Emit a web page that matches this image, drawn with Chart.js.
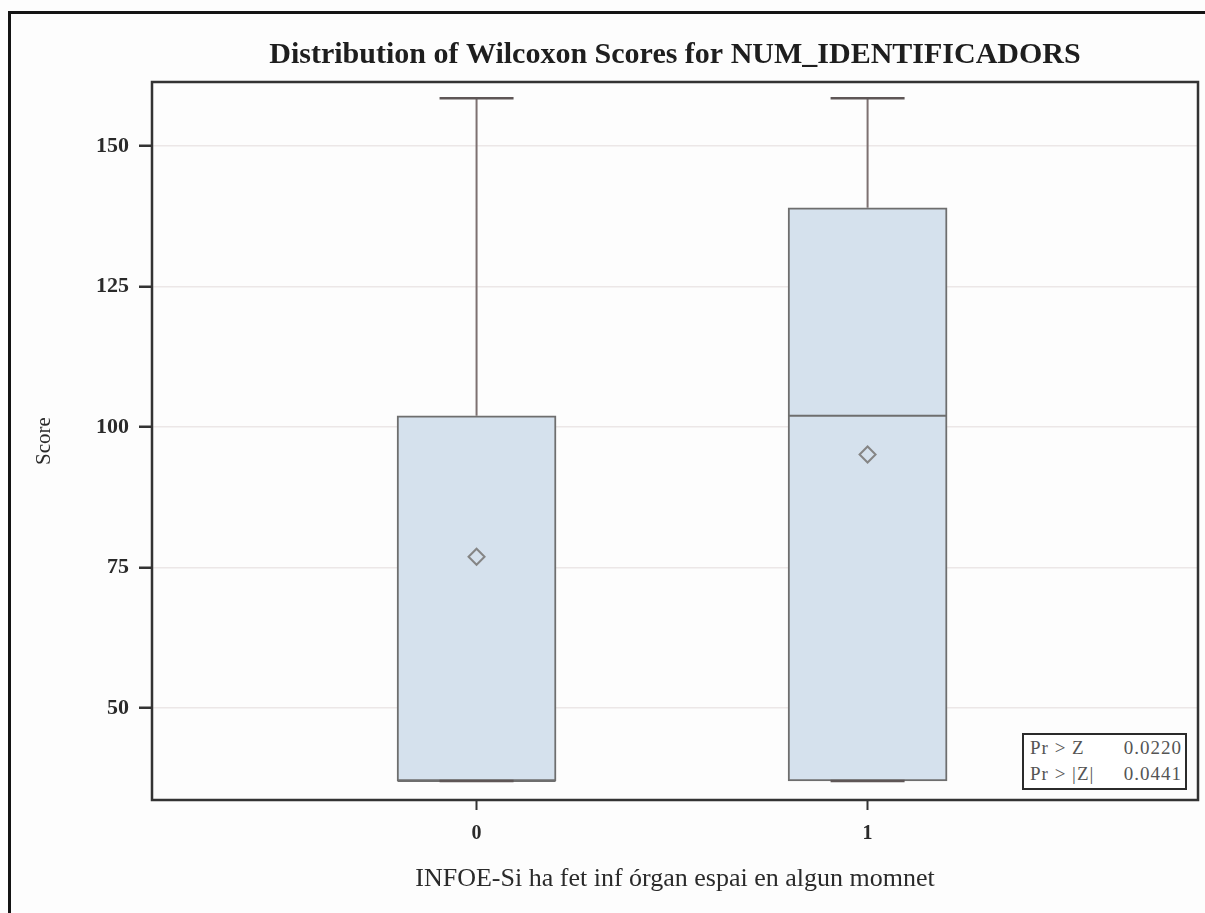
<!DOCTYPE html>
<html>
<head>
<meta charset="utf-8">
<script src="https://cdn.jsdelivr.net/npm/chart.js@4.4.1/dist/chart.umd.min.js"></script>
<style>
  html, body { margin: 0; padding: 0; background: #fdfdfd; }
  #wrap { position: relative; width: 1205px; height: 913px; overflow: hidden; }
  #frame { position: absolute; left: 8px; top: 11px; width: 1300px; height: 1000px; border: 3px solid #141414; }
  #chart { position: absolute; left: 0; top: 0; }
  #stats {
    position: absolute; left: 1022px; top: 733px; width: 161px; height: 53px;
    border: 2px solid #2b2b2b; background: #fff;
    font-family: "Liberation Serif", serif; font-size: 19px; letter-spacing: 1px; color: #555;
  }
  #stats div { display: flex; justify-content: space-between; padding: 0 3px 0 6px; line-height: 26px; }
</style>
</head>
<body>
<div id="wrap">
  <div id="frame"></div>
  <canvas id="chart" width="1205" height="913"></canvas>
  <div id="stats">
    <div><span>Pr &gt; Z</span><span>0.0220</span></div>
    <div><span>Pr &gt; |Z|</span><span>0.0441</span></div>
  </div>
</div>
<script>
// Wilcoxon score distribution per INFOE group
const groups = ['0', '1'];
const groupX = [0, 1];
const whiskerLow = [37, 37];
const q1 = [37, 37];
const median = [37, 102];
const q3 = [102, 139];
const whiskerHigh = [158.5, 158.5];
const means = [76.9, 95.1];
const yTicks = [50, 75, 100, 125, 150];

const serif = '"Liberation Serif", "Times New Roman", serif';
const boxFill = '#d5e1ed';
const boxLine = '#6e6e6e';
const whiskerColor = '#7d7171';

// frame around the plot area
const plotFrame = {
  id: 'plotFrame',
  afterDraw(chart) {
    const { ctx, chartArea: a } = chart;
    ctx.save();
    ctx.strokeStyle = '#333';
    ctx.lineWidth = 2.5;
    ctx.strokeRect(a.left, a.top, a.right - a.left, a.bottom - a.top);
    ctx.restore();
  }
};

new Chart(document.getElementById('chart'), {
  type: 'bar',
  data: {
    datasets: [
      {
        // boxes: Q1..Q3
        type: 'bar',
        order: 3,
        data: groupX.map((x, i) => ({ x: x, y: [q1[i], q3[i]] })),
        backgroundColor: boxFill,
        borderColor: boxLine,
        borderWidth: 2,
        borderSkipped: false,
        barThickness: 159
      },
      {
        // whisker stems
        type: 'line',
        order: 2,
        data: groupX.flatMap((x, i) => [
          { x: x, y: q3[i] }, { x: x, y: whiskerHigh[i] }, { x: x, y: null },
          { x: x, y: q1[i] }, { x: x, y: whiskerLow[i] }, { x: x, y: null }
        ]),
        borderColor: whiskerColor,
        borderWidth: 2,
        pointRadius: 0,
        spanGaps: false
      },
      {
        // whisker caps
        type: 'scatter',
        order: 1,
        data: groupX.flatMap((x, i) => [{ x: x, y: whiskerHigh[i] }, { x: x, y: whiskerLow[i] }]),
        pointStyle: 'line',
        pointRadius: 37,
        borderColor: '#5e5656',
        borderWidth: 2.5
      },
      {
        // medians
        type: 'scatter',
        order: 1,
        data: groupX.map((x, i) => ({ x: x, y: median[i] })),
        pointStyle: 'line',
        pointRadius: 79,
        borderColor: boxLine,
        borderWidth: 2
      },
      {
        // means
        type: 'scatter',
        order: 0,
        data: groupX.map((x, i) => ({ x: x, y: means[i] })),
        pointStyle: 'rectRot',
        pointRadius: 8,
        backgroundColor: boxFill,
        borderColor: '#858585',
        borderWidth: 2
      }
    ]
  },
  options: {
    responsive: false,
    animation: false,
    events: [],
    layout: { autoPadding: false, padding: { left: 0, right: 7, top: 0, bottom: 0 } },
    plugins: {
      legend: { display: false },
      tooltip: { enabled: false },
      title: {
        display: true,
        fullSize: false,
        text: 'Distribution of Wilcoxon Scores for NUM_IDENTIFICADORS',
        color: '#1e1e1e',
        font: { family: serif, size: 30, weight: 'bold' },
        padding: { top: 37, bottom: 9 }
      }
    },
    scales: {
      x: {
        type: 'linear',
        min: -0.83,
        max: 1.845,
        offset: false,
        afterBuildTicks(scale) { scale.ticks = groupX.map(v => ({ value: v })); },
        afterFit(scale) { scale.height = 113; },
        ticks: {
          callback: (v) => groups[groupX.indexOf(v)],
          color: '#2a2a2a',
          font: { family: serif, size: 20, weight: 'bold' },
          padding: 12
        },
        grid: { offset: false, drawOnChartArea: false, drawTicks: true, tickLength: 10, tickColor: '#333', tickWidth: 2 },
        border: { display: false },
        title: {
          display: true,
          text: 'INFOE-Si ha fet inf órgan espai en algun momnet',
          color: '#2a2a2a',
          font: { family: serif, size: 26 },
          padding: { top: 0, bottom: 18 }
        }
      },
      y: {
        min: 33.6,
        max: 161.4,
        afterBuildTicks(scale) { scale.ticks = yTicks.map(v => ({ value: v })); },
        afterFit(scale) { scale.width = 152; },
        ticks: {
          color: '#2a2a2a',
          font: { family: serif, size: 22, weight: 'bold' },
          padding: 10
        },
        grid: { color: '#ece7e7', lineWidth: 1.5, drawTicks: true, tickLength: 13, tickColor: '#333', tickWidth: 2.5 },
        border: { display: false },
        title: {
          display: true,
          text: 'Score',
          color: '#2a2a2a',
          font: { family: serif, size: 21 },
          padding: { top: 32, bottom: 0 }
        }
      }
    }
  },
  plugins: [plotFrame]
});
</script>
</body>
</html>
